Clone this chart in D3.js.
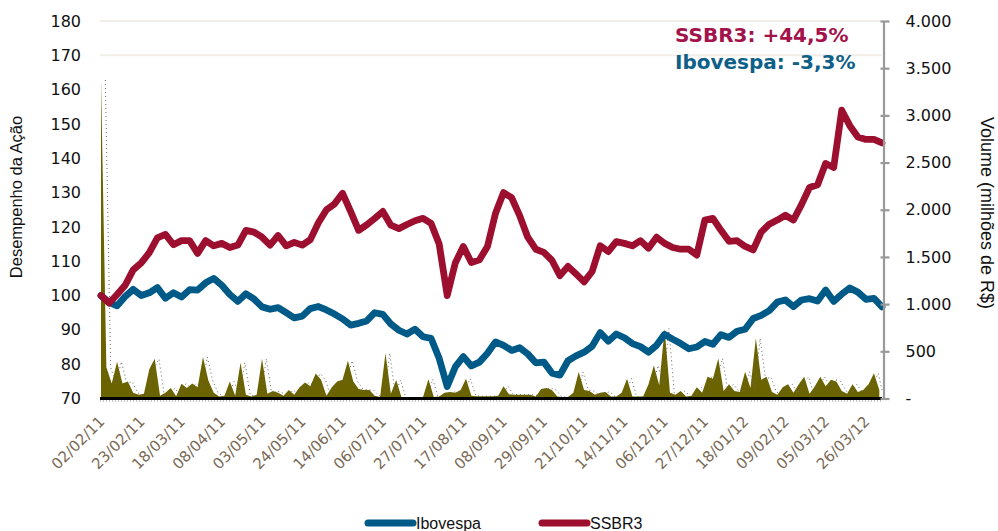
<!DOCTYPE html>
<html><head><meta charset="utf-8">
<script src="https://cdn.jsdelivr.net/npm/d3@7"></script>
<style>body{margin:0;background:#fff}svg{display:block}</style>
</head><body>
<svg id="c" width="998" height="531"></svg>
<script>
// ---------- data ----------
const xLabels = ["02/02/11","23/02/11","18/03/11","08/04/11","03/05/11","24/05/11","14/06/11","06/07/11","27/07/11","17/08/11","08/09/11","29/09/11","21/10/11","14/11/11","06/12/11","27/12/11","18/01/12","09/02/12","05/03/12","26/03/12"];
const labelStep = 15;      // trading days between category labels
const lastIndex = 291;     // last trading day index
const priceStep = 3;       // price series sampled every 3 trading days
const volStep = 2;         // volume sampled every 2 trading days

const ssbr3 = [100,97.8,100.3,103,107.5,109.5,112.5,116.8,117.8,114.8,
116,116,112.3,116,114.5,115.2,114,114.7,119,118.5,
117,114.7,117.5,114.5,115.5,114.7,116.3,121.2,125,126.7,
129.8,124.5,119,120.6,122.5,124.5,120.5,119.5,120.7,121.8,
122.5,121,115,100,109.5,114.3,109.6,110.4,114.3,124,
130,128.5,123.3,117,113.5,112.6,110.3,105.8,108.5,106.3,
104,107,114.5,112.8,115.7,115.2,114.5,116,113.8,117,
115.2,114,113.5,113.5,111.8,122,122.5,119,115.8,116,
114.3,113.3,118.5,120.8,122,123.4,122,126.5,131.5,132.3,
138.5,137.3,154,149.5,146.2,145.5,145.5,144.5];

const ibovespa = [100,98,97,99.7,101.8,100,100.8,102.3,99.2,100.8,
99.6,101.7,101.6,103.7,105,103,100.3,98.3,100.5,99,
96.7,96,96.5,95,93.5,94,96.2,96.8,95.8,94.6,
93.2,91.4,91.9,92.6,95,94.5,91.7,89.9,88.8,90.2,
88,87.5,81.7,73.5,79.2,82.2,79.5,80.6,83.2,86.5,
85.5,84,84.8,83,80.4,80.6,77.4,76.8,81,82.4,
83.5,85.2,89.2,86.7,88.8,87.7,86,85.1,83.5,85.5,
88.7,87.3,86,84.5,85,86.6,85.8,88.6,87.8,89.6,
90.2,93.3,94.2,95.6,98.1,98.7,96.8,98.7,99.1,98.4,
101.6,98.3,100.4,102.2,101,98.9,99.2,96.7];

const volume = [3375,330,160,390,160,180,60,40,50,310,
420,30,60,110,25,155,110,160,120,440,
190,60,20,30,180,30,380,40,20,40,
420,50,80,60,30,90,40,120,170,130,
265,200,30,120,180,200,400,180,100,90,
90,30,15,480,50,195,10,10,10,10,
15,205,15,20,60,70,60,90,210,30,
25,25,25,25,30,130,45,40,40,40,
40,20,100,110,90,20,15,15,60,280,
90,80,40,60,70,20,20,60,210,20,
20,20,150,350,140,740,60,40,80,20,
30,120,60,230,210,425,80,150,80,70,
284,110,638,200,230,70,40,120,150,60,
150,230,50,130,230,130,200,180,80,50,
150,70,90,150,267,90];

const leftTicks = [70,80,90,100,110,120,130,140,150,160,170,180];
const rightTicks = [0,500,1000,1500,2000,2500,3000,3500,4000];
const rightTickLabels = ["-","500","1.000","1.500","2.000","2.500","3.000","3.500","4.000"];
const gridValues = [170,180];
const seriesNames = ["Ibovespa","SSBR3"];
const notes = ["SSBR3: +44,5%","Ibovespa: -3,3%"];

// ---------- chart ----------
const svg = d3.select("#c");
const pLeft = 101, pRight = 882, pTop = 21, pBottom = 398.5;
const x = d3.scaleLinear().domain([0,lastIndex]).range([pLeft,pRight]);
const yL = d3.scaleLinear().domain([70,180]).range([pBottom,pTop]);
const yR = d3.scaleLinear().domain([0,4000]).range([pBottom,pTop]);
const cRed = "#9c0f2f", cBlue = "#005a87", cOlive = "#6b6300";

// gridlines
svg.append("g").selectAll("line").data(gridValues).join("line")
  .attr("x1",pLeft-1).attr("x2",pRight).attr("y1",d=>yL(d)).attr("y2",d=>yL(d))
  .attr("stroke","#f1ede9").attr("stroke-width",2);

// volume area
svg.append("path").datum(volume)
  .attr("d", d3.area().x((d,i)=>x(i*volStep)).y0(yR(0)).y1(d=>yR(d)))
  .attr("fill",cOlive);
// dotted volume line
svg.append("path").datum(volume)
  .attr("d", d3.line().x((d,i)=>Math.min(x(i*volStep+1.6),pRight)).y(d=>yR(d)))
  .attr("fill","none").attr("stroke","#666").attr("stroke-width",1).attr("stroke-dasharray","1,3");
// dotted line under the baseline
svg.append("line").attr("x1",pLeft-1).attr("x2",pRight).attr("y1",yR(0)+2.5).attr("y2",yR(0)+2.5)
  .attr("stroke","#888").attr("stroke-width",1).attr("stroke-dasharray","1,2");
// baseline
svg.append("line").attr("x1",pLeft-1).attr("x2",pRight).attr("y1",yR(0)).attr("y2",yR(0))
  .attr("stroke","#000").attr("stroke-width",3);

// price lines
const line = d3.line().x((d,i)=>x(i*priceStep)).y(d=>yL(d));
[[ibovespa,cBlue],[ssbr3,cRed]].forEach(([s,c])=>{
  svg.append("path").datum(s).attr("d",line).attr("fill","none")
    .attr("stroke",c).attr("stroke-width",6.8).attr("stroke-linejoin","round").attr("stroke-linecap","round");
});

// left axis
const gl = svg.append("g").attr("transform",`translate(${pLeft-1},0)`)
  .call(d3.axisLeft(yL).tickValues(leftTicks).tickSize(0).tickPadding(19));
gl.select(".domain").remove();
gl.selectAll("text").attr("font-family","DejaVu Sans, Verdana, sans-serif").attr("font-size",16).attr("fill","#111");

// right axis
const gr = svg.append("g").attr("transform",`translate(${pRight+1.5},0)`)
  .call(d3.axisRight(yR).tickValues(rightTicks).tickFormat((d,i)=>rightTickLabels[i]).tickSizeInner(6).tickSizeOuter(0).tickPadding(16));
gr.select(".domain").attr("stroke","#999").attr("stroke-width",2.2);
gr.selectAll(".tick line").attr("stroke","#999").attr("stroke-width",2.2).attr("x1",-3);
gr.selectAll("text").attr("font-family","DejaVu Sans, Verdana, sans-serif").attr("font-size",16).attr("fill","#111");

// x axis labels
const xt = d3.range(0, xLabels.length).map(i=>i*labelStep);
const gx = svg.append("g").attr("transform",`translate(0,${pBottom})`)
  .call(d3.axisBottom(x).tickValues(xt).tickFormat((d,i)=>xLabels[i]).tickSize(0));
gx.select(".domain").remove();
gx.selectAll("text").attr("font-family","DejaVu Sans, Verdana, sans-serif").attr("font-size",15).attr("fill","#7b6a56")
  .attr("text-anchor","end").attr("dy",0).attr("y",0)
  .attr("transform","translate(4,24) rotate(-45)");

// axis titles
svg.append("text").attr("transform",`translate(22,197) rotate(-90)`).attr("text-anchor","middle")
  .attr("font-family","Liberation Sans, Arial, sans-serif").attr("font-size",16.5).attr("fill","#111")
  .text("Desempenho da Ação");
svg.append("text").attr("transform",`translate(981,213) rotate(90)`).attr("text-anchor","middle")
  .attr("font-family","Liberation Sans, Arial, sans-serif").attr("font-size",18).attr("fill","#111")
  .text("Volume (milhões de R$)");

// annotations
svg.append("text").attr("x",675).attr("y",42).attr("font-family","DejaVu Sans, Verdana, sans-serif")
  .attr("font-weight","bold").attr("font-size",20).attr("fill","#a3124a").text(notes[0]);
svg.append("text").attr("x",675).attr("y",68.5).attr("font-family","DejaVu Sans, Verdana, sans-serif")
  .attr("font-weight","bold").attr("font-size",20).attr("fill","#0e6089").text(notes[1]);

// legend
const lg = svg.append("g");
[[368,cBlue,seriesNames[0]],[542,cRed,seriesNames[1]]].forEach(([lx,c,t])=>{
  lg.append("line").attr("x1",lx).attr("x2",lx+45).attr("y1",523).attr("y2",523)
    .attr("stroke",c).attr("stroke-width",7).attr("stroke-linecap","round");
  lg.append("text").attr("x",lx+48).attr("y",529).attr("font-family","Liberation Sans, Arial, sans-serif")
    .attr("font-size",16).attr("fill","#111").text(t);
});
</script>
</body></html>
